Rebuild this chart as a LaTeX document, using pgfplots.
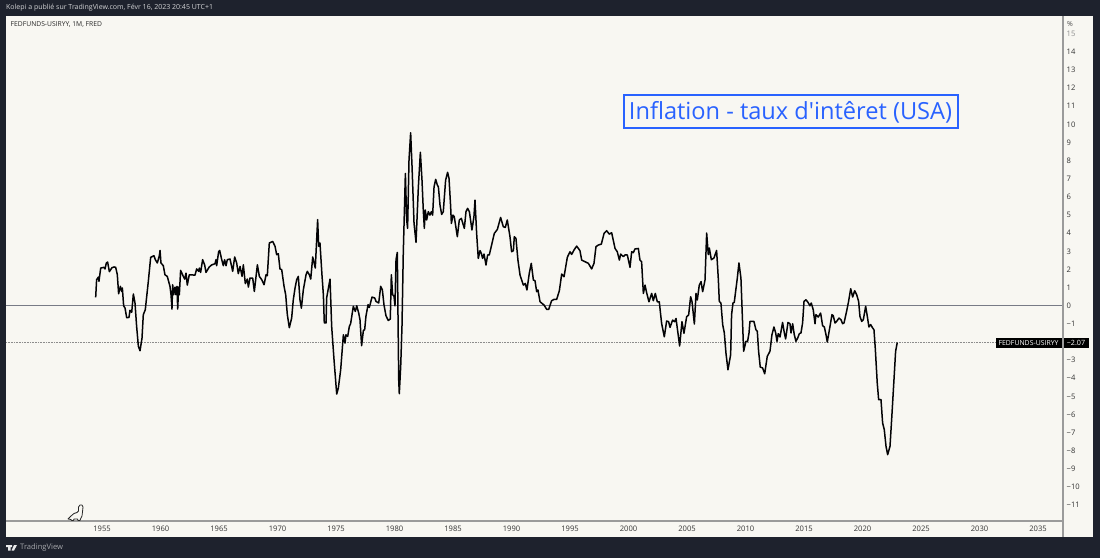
\documentclass[border=0pt]{standalone}
\usepackage{fontspec}
\setmainfont{Open Sans}
\newfontfamily\plainfont{Open Sans}
\usepackage{pgfplots}
\pgfplotsset{compat=1.18}
\usepackage{pgfplotstable}
\definecolor{dark}{HTML}{1E222D}
\definecolor{paper}{HTML}{F8F7F2}
\definecolor{tvblue}{HTML}{2962FF}
\definecolor{axisgrey}{HTML}{9B9B9B}
\definecolor{zeroline}{HTML}{787B86}
\pgfplotstableread{
year value
1954.46 0.42
1954.54 1.40
1954.69 1.54
1954.74 1.31
1954.89 2.04
1955.17 2.08
1955.26 1.99
1955.37 2.32
1955.48 2.37
1955.63 1.84
1955.85 2.06
1956.03 2.10
1956.17 2.08
1956.31 1.67
1956.42 0.62
1956.57 1.03
1956.68 0.75
1956.74 0.94
1956.85 -0.04
1956.97 -0.17
1957.11 -0.70
1957.31 -0.68
1957.39 -0.29
1957.54 -0.40
1957.68 0.61
1957.82 0.11
1957.96 -1.18
1958.11 -2.28
1958.25 -2.52
1958.42 -1.82
1958.53 -0.53
1958.70 -0.26
1958.96 1.31
1959.16 2.63
1959.44 2.72
1959.56 2.50
1959.73 2.32
1959.90 2.72
1959.96 3.01
1960.04 2.32
1960.24 2.17
1960.38 1.67
1960.58 1.58
1960.81 1.03
1960.90 0.57
1960.98 -0.22
1961.04 1.12
1961.13 0.57
1961.24 0.99
1961.32 0.57
1961.41 1.03
1961.47 -0.22
1961.55 0.99
1961.61 0.57
1961.72 1.91
1961.95 1.58
1962.07 1.43
1962.18 1.76
1962.29 1.10
1962.46 1.67
1962.95 1.65
1963.09 1.99
1963.26 1.86
1963.32 2.04
1963.43 1.80
1963.60 2.50
1963.77 2.22
1963.89 1.80
1964.17 2.10
1964.37 2.21
1964.66 2.28
1964.74 2.50
1964.80 2.17
1964.97 2.94
1965.06 3.01
1965.20 2.59
1965.37 2.17
1965.48 2.50
1965.60 2.17
1965.71 2.50
1965.94 2.54
1966.17 1.86
1966.34 2.65
1966.51 2.32
1966.65 1.73
1966.80 2.13
1966.97 1.58
1967.08 2.22
1967.25 1.18
1967.42 1.43
1967.51 0.99
1967.65 1.49
1967.88 1.49
1968.02 0.75
1968.28 2.22
1968.45 1.58
1968.65 1.40
1968.85 1.12
1969.02 1.67
1969.13 1.62
1969.30 3.42
1969.59 3.51
1969.79 3.24
1969.93 2.78
1970.07 2.83
1970.21 1.99
1970.36 1.95
1970.56 1.03
1970.70 0.57
1970.84 -0.53
1971.01 -1.25
1971.21 -0.72
1971.35 0.29
1971.50 0.94
1971.64 1.40
1971.78 1.58
1971.92 0.29
1972.04 -0.17
1972.21 0.85
1972.44 1.67
1972.55 1.86
1972.72 1.67
1972.84 1.43
1973.01 2.65
1973.23 2.04
1973.43 4.71
1973.52 3.24
1973.63 3.42
1973.80 1.67
1973.92 0.57
1974.00 -0.99
1974.15 -0.99
1974.20 0.39
1974.49 1.43
1974.63 -1.18
1974.83 -3.01
1975.06 -4.91
1975.20 -4.58
1975.40 -3.57
1975.63 -1.64
1975.77 -2.10
1975.85 -1.64
1976.00 -1.73
1976.14 -1.18
1976.25 -1.03
1976.48 -0.07
1976.65 -0.35
1976.77 -0.04
1976.94 -0.44
1977.05 -0.81
1977.19 -2.24
1977.34 -1.40
1977.45 -1.36
1977.56 -0.62
1977.74 0.02
1977.85 -0.13
1978.08 0.44
1978.31 0.39
1978.42 0.20
1978.65 0.11
1978.82 1.03
1978.96 0.85
1979.10 0.02
1979.27 -0.59
1979.47 -0.85
1979.64 -0.77
1979.73 1.67
1979.84 0.57
1979.96 0.48
1980.04 -0.04
1980.13 2.50
1980.24 2.90
1980.36 -4.12
1980.41 -4.89
1980.53 -3.38
1980.64 -1.18
1980.75 2.85
1980.93 7.26
1981.04 4.69
1981.12 4.23
1981.24 8.00
1981.38 9.50
1981.50 7.63
1981.67 4.50
1981.84 3.46
1982.04 6.52
1982.21 8.42
1982.35 6.89
1982.46 5.24
1982.55 4.23
1982.63 5.24
1982.75 4.69
1982.89 5.15
1983.03 4.96
1983.15 5.15
1983.26 4.96
1983.38 6.52
1983.52 6.93
1983.66 6.62
1983.75 6.52
1983.89 5.51
1984.03 5.00
1984.17 5.15
1984.37 6.89
1984.54 7.32
1984.66 6.98
1984.80 5.42
1984.86 4.50
1985.00 4.96
1985.11 4.87
1985.37 3.77
1985.54 4.69
1985.71 4.78
1985.97 4.23
1986.11 5.15
1986.25 5.33
1986.40 5.15
1986.62 4.14
1986.79 4.87
1986.88 5.79
1987.02 3.95
1987.16 2.57
1987.31 3.00
1987.42 2.85
1987.53 2.57
1987.65 2.81
1987.82 2.21
1987.96 2.76
1988.10 2.76
1988.30 3.31
1988.53 3.95
1988.79 4.17
1989.07 4.83
1989.30 4.32
1989.47 4.28
1989.64 4.69
1989.87 3.77
1990.01 2.94
1990.16 3.00
1990.24 3.77
1990.38 3.68
1990.55 2.48
1990.73 1.65
1991.01 1.10
1991.18 1.19
1991.32 0.83
1991.52 1.75
1991.69 2.30
1991.87 1.38
1992.01 1.34
1992.15 0.74
1992.26 0.83
1992.44 0.18
1992.61 0.09
1992.78 0.00
1993.01 -0.24
1993.18 -0.24
1993.43 0.24
1993.63 0.31
1993.86 0.31
1994.09 0.79
1994.29 1.71
1994.49 1.56
1994.77 2.63
1995.00 2.94
1995.14 2.79
1995.34 3.03
1995.57 3.25
1995.85 3.00
1996.00 2.48
1996.28 2.39
1996.57 2.30
1996.85 1.99
1997.05 2.30
1997.22 3.22
1997.42 3.31
1997.68 3.36
1997.91 3.95
1998.13 4.10
1998.36 3.91
1998.56 3.99
1998.85 3.12
1999.04 2.94
1999.22 2.48
1999.33 2.81
1999.56 2.67
1999.70 2.76
1999.90 2.76
2000.13 2.08
2000.27 2.94
2000.41 2.89
2000.55 3.09
2000.84 3.12
2000.98 2.48
2001.12 2.39
2001.27 0.64
2001.41 1.10
2001.55 0.68
2001.75 0.18
2001.98 0.64
2002.12 0.24
2002.29 0.64
2002.46 0.18
2002.63 0.18
2002.83 -1.01
2003.06 -1.75
2003.26 -0.88
2003.43 -0.92
2003.55 -1.23
2003.77 -0.83
2003.94 -0.92
2004.06 -0.74
2004.23 -1.56
2004.37 -2.26
2004.57 -0.92
2004.74 -1.56
2004.97 -0.64
2005.14 -0.55
2005.31 0.46
2005.43 0.18
2005.63 -1.05
2005.77 0.64
2005.88 0.28
2006.05 1.10
2006.20 1.29
2006.34 0.74
2006.54 1.38
2006.68 3.97
2006.82 2.78
2006.91 3.14
2007.08 2.50
2007.30 2.59
2007.53 3.01
2007.68 1.40
2007.76 0.20
2007.90 0.11
2008.05 -1.08
2008.19 -1.54
2008.33 -2.65
2008.50 -3.57
2008.73 -2.74
2008.81 -0.53
2008.93 0.11
2009.04 0.15
2009.30 1.49
2009.44 2.32
2009.61 1.49
2009.73 -0.62
2009.84 -2.55
2010.04 -2.00
2010.18 -2.00
2010.30 -1.54
2010.38 -0.90
2010.72 -0.90
2010.89 -1.36
2011.01 -1.45
2011.12 -2.55
2011.26 -3.42
2011.46 -3.47
2011.64 -3.79
2011.86 -2.83
2012.09 -2.55
2012.26 -1.64
2012.43 -1.21
2012.58 -1.54
2012.69 -2.00
2012.80 -1.58
2012.95 -1.76
2013.17 -0.96
2013.32 -1.54
2013.43 -1.87
2013.63 -0.96
2013.80 -1.03
2013.89 -1.54
2014.03 -1.03
2014.17 -1.64
2014.31 -2.00
2014.46 -1.82
2014.60 -1.58
2014.74 -1.54
2014.88 -0.99
2015.00 0.20
2015.17 0.29
2015.34 0.15
2015.51 -0.04
2015.62 0.11
2015.79 -0.26
2015.94 -1.03
2016.02 -0.53
2016.22 -0.66
2016.42 -0.44
2016.59 -1.14
2016.74 -1.21
2016.88 -1.64
2016.99 -2.04
2017.22 -1.18
2017.39 -0.53
2017.50 -0.59
2017.65 -0.99
2017.79 -0.90
2017.99 -0.72
2018.16 -0.81
2018.30 -1.03
2018.42 -0.99
2018.64 -0.35
2018.81 0.20
2018.99 0.90
2019.16 0.44
2019.33 0.79
2019.50 0.57
2019.67 0.20
2019.78 -0.62
2019.93 -0.90
2020.07 -0.81
2020.27 -0.07
2020.41 -0.62
2020.55 -1.21
2020.70 -1.08
2020.87 -1.27
2020.98 -1.36
2021.09 -2.37
2021.26 -4.30
2021.38 -5.22
2021.58 -5.22
2021.72 -6.51
2021.86 -6.87
2022.01 -7.79
2022.15 -8.25
2022.35 -7.79
2022.49 -6.32
2022.69 -4.12
2022.83 -2.55
2022.97 -2.07
}\spread
\begin{document}
\begin{tikzpicture}[x=1pt,y=1pt]
\path[use as bounding box] (0,0) rectangle (1100,558);
\fill[dark] (0,0) rectangle (1100,558);
\fill[paper] (6,21) rectangle (1093,542);
\begin{axis}[
  at={(6pt,37pt)}, anchor=south west,
  scale only axis, width=1057pt, height=505pt,
  xmin=1946.795, xmax=2037.137,
  ymin=-11.91, ymax=15.94,
  axis x line*=bottom, axis y line*=right,
  axis line style={draw=axisgrey, line width=1.4pt},
  major tick length=0pt,
  xtick={1955,1960,1965,1970,1975,1980,1985,1990,1995,2000,2005,2010,2015,2020,2025,2030,2035},
  xticklabels={1955,1960,1965,1970,1975,1980,1985,1990,1995,2000,2005,2010,2015,2020,2025,2030,2035},
  ytick={-11,-10,-9,-8,-7,-6,-5,-4,-3,-1,0,1,2,3,4,5,6,7,8,9,10,11,12,13,14,15},
  yticklabels={−11,−10,−9,−8,−7,−6,−5,−4,−3,−1,0,1,2,3,4,5,6,7,8,9,10,11,12,13,14,{\textcolor{black!45}{15}}},
  ticklabel style={font=\fontsize{7.6}{8}\selectfont, text=black!80, inner sep=0pt},
  yticklabel style={anchor=west, xshift=3.5pt, yshift=-0.7pt},
  xticklabel style={anchor=north, yshift=-4.5pt},
  clip=true,
]
\addplot[zeroline, line width=0.95pt, forget plot] coordinates {(1946.795,0) (2037.137,0)};
\addplot[black!45, line width=0.5pt, dash pattern=on 0.8pt off 0.8pt, forget plot] coordinates {(1946.795,-2.07) (2037.137,-2.07)};
\addplot[black!90!dark, line width=1.5pt, line join=round] table[x=year,y=value] {\spread};
\end{axis}
\begin{scope}[x=1pt,y=-1pt,yshift=558pt]
\draw[axisgrey, line width=1.4pt] (6,521) -- (1063,521);
\draw[axisgrey, line width=1.4pt] (1063,16) -- (1063,537);
\node[anchor=west, text=white!80!dark, inner sep=0pt, font=\fontsize{7}{8}\selectfont] at (6,8) {Kolepi a publié sur TradingView.com, Févr 16, 2023 20:45 UTC+1};
\node[anchor=west, text=black!85, inner sep=0pt, font=\fontsize{6.75}{8}\selectfont] at (10.5,24.5) {FEDFUNDS-USIRYY, 1M, FRED};
\node[anchor=west, text=black!70, inner sep=0pt, font=\fontsize{7}{8}\selectfont] at (1067,24) {\%};
\node[draw=tvblue, line width=2pt, fill=paper, text=tvblue, inner sep=0pt, minimum width=334pt, minimum height=33pt, font=\plainfont\fontsize{23.6}{26}\selectfont] at (790.5,112) {\raisebox{-1.6pt}{Inflation - taux d'intêret (USA)}};
\fill[black] (996,338) rectangle (1088.5,348);
\draw[axisgrey, line width=1.4pt] (1063,338) -- (1063,348);
\node[anchor=center, text=white, inner sep=0pt, font=\fontsize{6.9}{8}\selectfont] at (1028.5,343) {FEDFUNDS-USIRYY};
\node[anchor=center, text=white, inner sep=0pt, font=\fontsize{7.2}{8}\selectfont] at (1076,343) {−2.07};
% dinosaur
\filldraw[fill=paper, draw=black!85, line width=0.8pt, line join=round]
 (68,519) -- (71,516) -- (74,513.5) -- (77,512.5) -- (78.5,511) -- (78.5,507) -- (80,505) -- (82,505) -- (83,507) -- (82.5,512) -- (82,516) -- (80.5,519) -- (80,520.5) -- (78,520.5) -- (77.5,519) -- (74,519) -- (73.5,520.5) -- (71.5,520.5) -- (71,519.5) -- cycle;
% TradingView logo
\fill[white!90!dark] (6,545) rectangle (12,547) (8,545) rectangle (10.5,550.5);
\fill[white!90!dark] (11.5,550.5) -- (14,545) -- (17,545) -- (14,550.5) -- cycle;
\node[anchor=west, text=white!60!dark, inner sep=0pt, font=\fontsize{7.6}{8}\selectfont] at (20,547.8) {TradingView};
\end{scope}
\end{tikzpicture}
\end{document}
